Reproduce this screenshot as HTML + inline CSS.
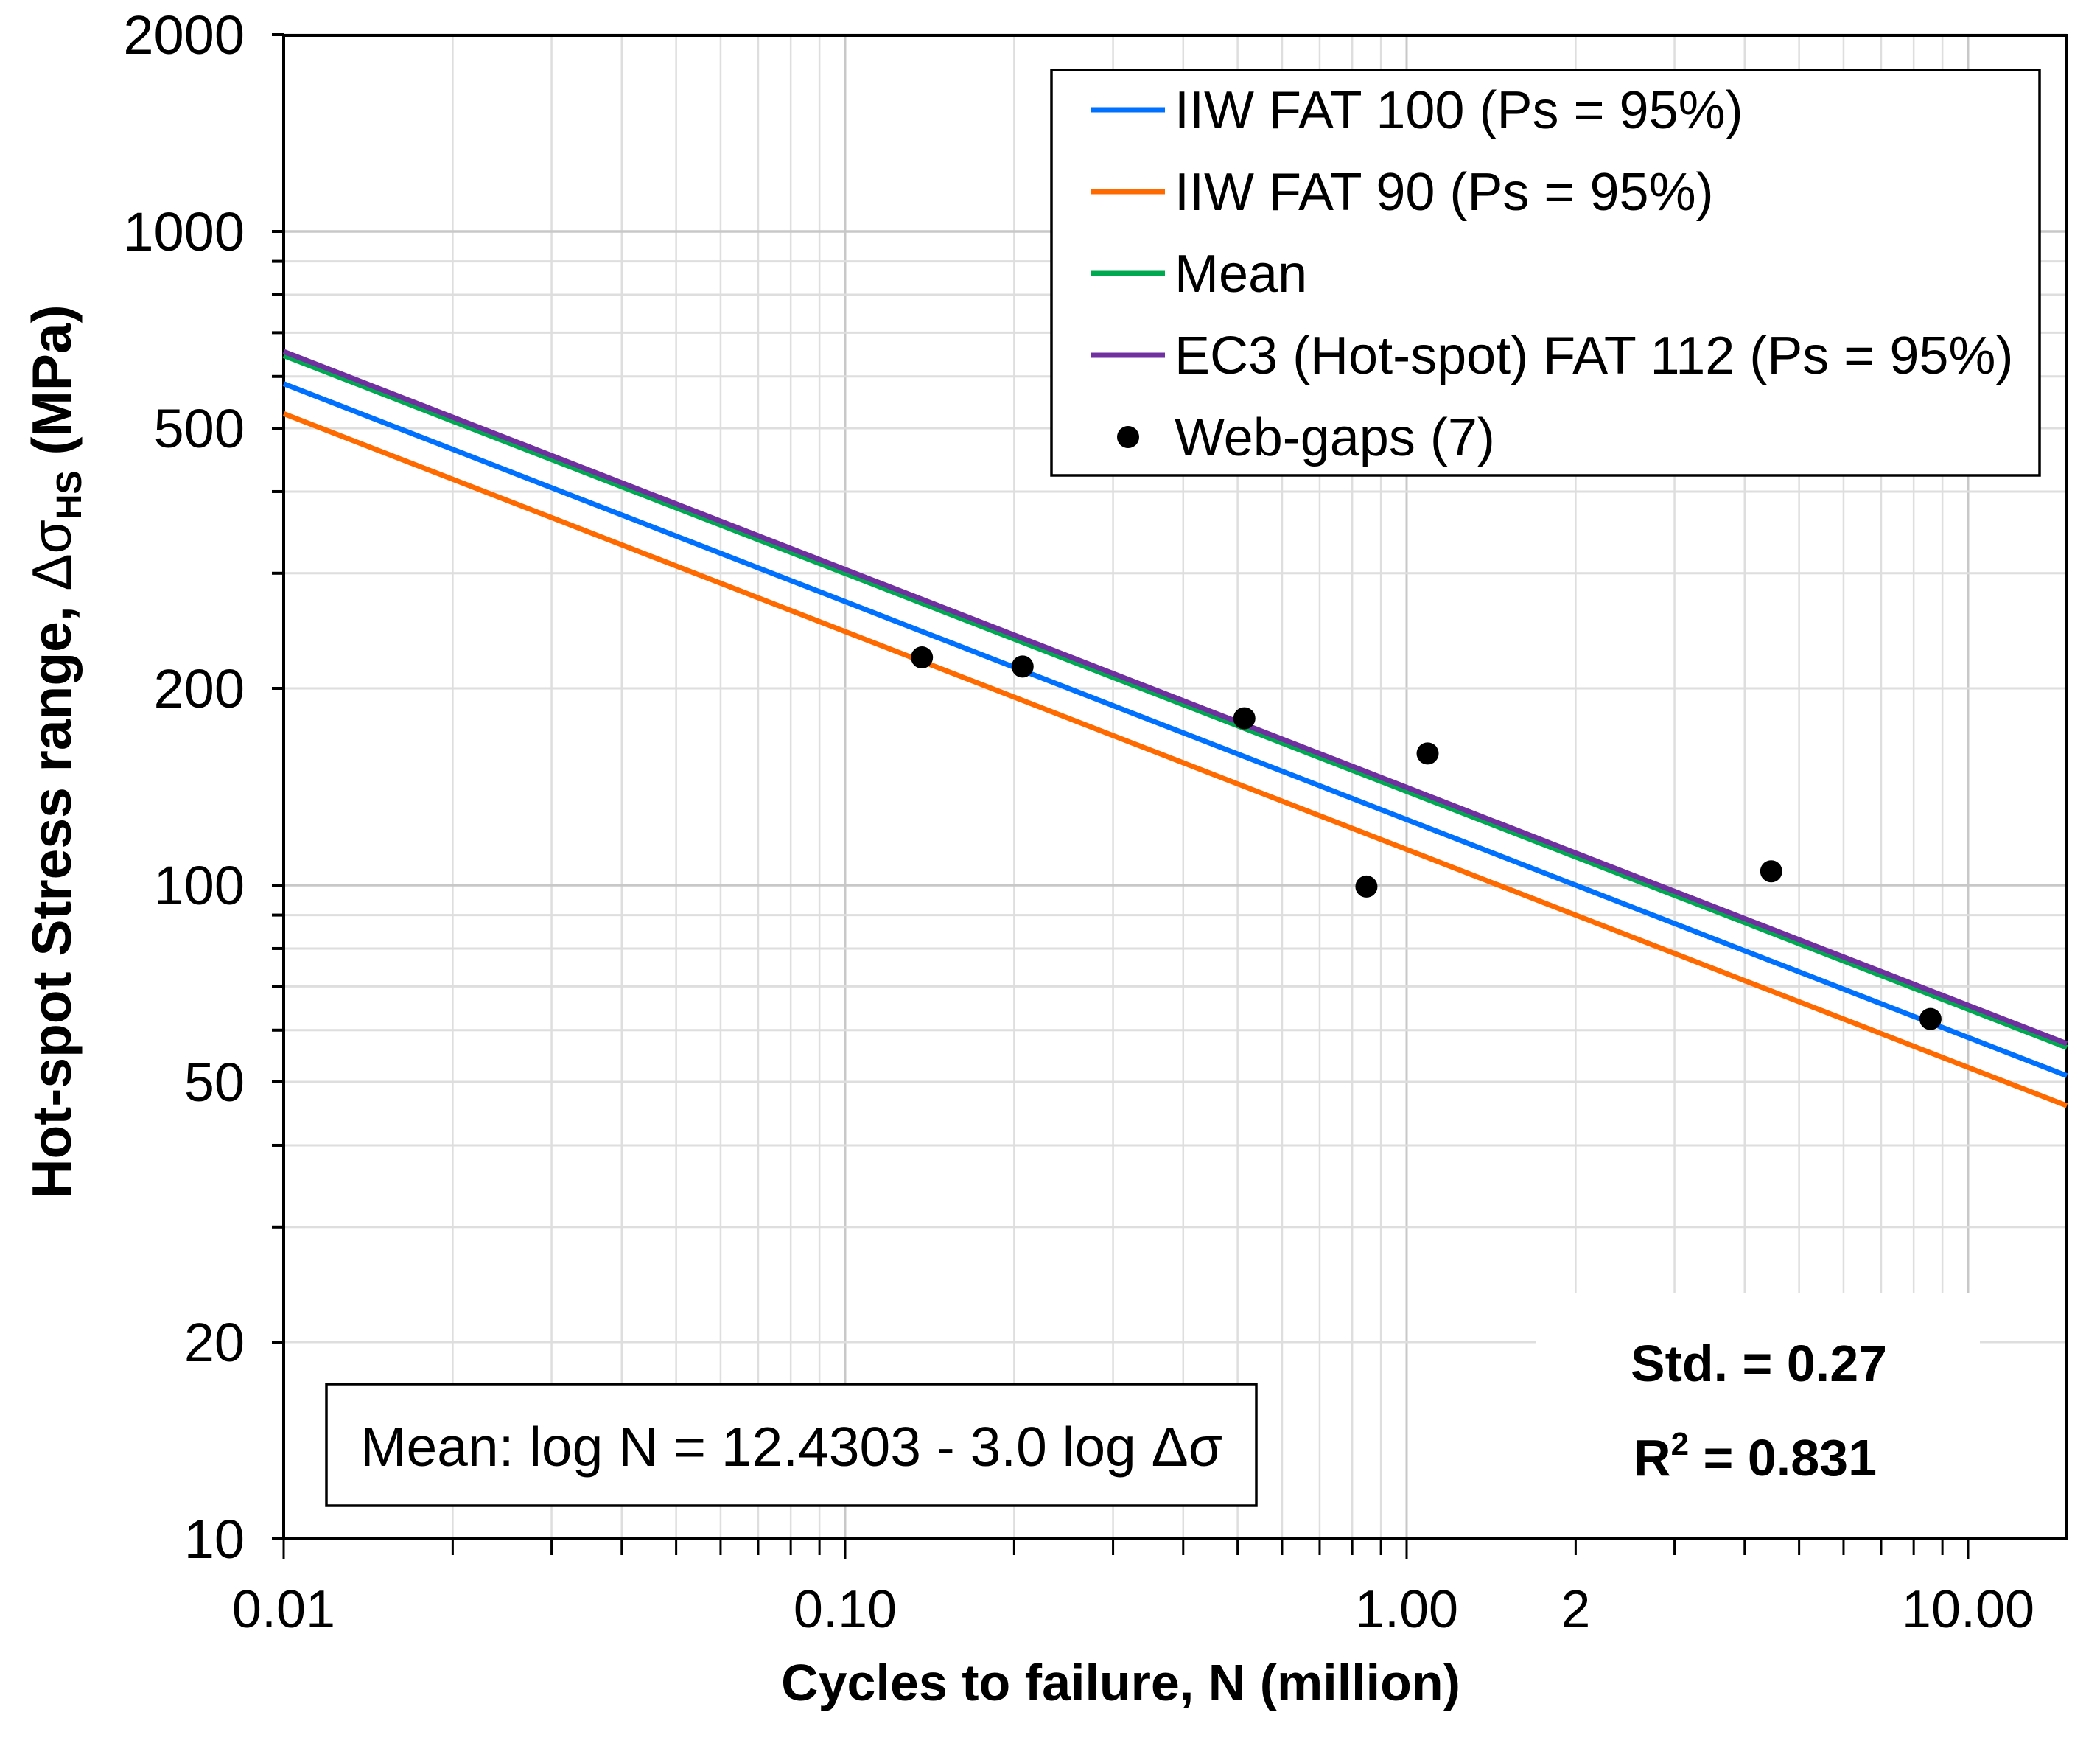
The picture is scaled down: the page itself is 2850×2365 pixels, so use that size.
<!DOCTYPE html>
<html><head><meta charset="utf-8"><style>
html,body{margin:0;padding:0;background:#fff}
svg{display:block}
text{font-family:"Liberation Sans",sans-serif;fill:#000}
</style></head><body>
<svg id="chart" width="2850" height="2365" viewBox="0 0 2850 2365" xmlns="http://www.w3.org/2000/svg">
<rect x="0" y="0" width="2850" height="2365" fill="#fff"/>
<g id="grid"></g>
<rect x="2085" y="1755" width="602" height="330" fill="#fff"/>
<g id="axes"></g>
<g id="series"></g>
<g id="points"></g>
<g>
<rect x="1427" y="95" width="1341" height="550" fill="#fff" stroke="#000" stroke-width="3.5"/>
<g><line x1="1481" y1="149" x2="1581" y2="149" stroke="#0070FF" stroke-width="7"/><text x="1594" y="174" font-size="72">IIW FAT 100 (Ps = 95%)</text></g>
<g><line x1="1481" y1="260" x2="1581" y2="260" stroke="#FF6A00" stroke-width="7"/><text x="1594" y="285" font-size="72">IIW FAT 90 (Ps = 95%)</text></g>
<g><line x1="1481" y1="371" x2="1581" y2="371" stroke="#00A850" stroke-width="7"/><text x="1594" y="396" font-size="72">Mean</text></g>
<g><line x1="1481" y1="482" x2="1581" y2="482" stroke="#7030A0" stroke-width="7"/><text x="1594" y="507" font-size="72">EC3 (Hot-spot) FAT 112 (Ps = 95%)</text></g>
<g><circle cx="1531" cy="593" r="15" fill="#000"/><text x="1594" y="618" font-size="72">Web-gaps (7)</text></g>
</g>
<g>
<rect x="443" y="1878" width="1262" height="165" fill="#fff" stroke="#000" stroke-width="3.5"/>
<text x="1074" y="1989" font-size="75" text-anchor="middle">Mean: log N = 12.4303 - 3.0 log Δσ</text>
</g>
<text x="2387" y="1874" font-size="70" font-weight="bold" text-anchor="middle">Std. = 0.27</text>
<text x="2382" y="2002" font-size="70" font-weight="bold" text-anchor="middle">R<tspan font-size="44" dy="-28">2</tspan><tspan dy="28"> = 0.831</tspan></text>
<text x="1521" y="2307" font-size="70" font-weight="bold" text-anchor="middle">Cycles to failure, N (million)</text>
<text transform="translate(96,1020) rotate(-90)" font-size="75" font-weight="bold" text-anchor="middle">Hot-spot Stress range, <tspan font-weight="normal">Δσ</tspan><tspan font-size="48" dy="14">HS</tspan><tspan dy="-14"> (MPa)</tspan></text>
</svg>
<script>
const fatValues = [100, 90, 112];
const meanIntercept = 12.4303;
const meanSlope = 3.0;
const pointN = [0.137, 0.207, 0.514, 0.848, 1.09, 4.46, 8.57];
const pointS = [223, 216, 180, 99.5, 159, 105, 62.4];
const yTicks = [2000, 1000, 500, 200, 100, 50, 20, 10];
const xTicks = [0.01, 0.1, 1, 10, 2];
const xTickLabels = ["0.01", "0.10", "1.00", "10.00", "2"];

const NS = "http://www.w3.org/2000/svg";
const L = 385, R = 2805, T = 48, B = 2088;
const xDec = 762, yDec = 887;
const xMin = 0.01, xMax = Math.pow(10, Math.log10(0.01) + (R - L) / xDec);
function xs(n){ return L + (Math.log10(n) - Math.log10(xMin)) * xDec; }
function ys(s){ return B - (Math.log10(s) - 1) * yDec; }
function mk(tag, attrs, parent){ const e = document.createElementNS(NS, tag); for (const k in attrs) e.setAttribute(k, attrs[k]); parent.appendChild(e); return e; }

const grid = document.getElementById('grid');
const axes = document.getElementById('axes');
for (let d = -2; d <= 1; d++) {
  for (let m = 1; m <= 9; m++) {
    const v = m * Math.pow(10, d);
    if (v < xMin || v > xMax) continue;
    const x = xs(v);
    const gl = mk('line', {x1:x, y1:T, x2:x, y2:B, stroke: m===1 ? '#c8c8c8' : '#dedede', 'stroke-width': m===1 ? 3 : 2.5}, grid);
    
    
    const tk = mk('line', {x1:x, y1:B, x2:x, y2:B + (m===1 ? 28 : 22), stroke:'#000', 'stroke-width':3}, axes);
    
    
  }
}
for (let d = 1; d <= 3; d++) {
  for (let m = 1; m <= 9; m++) {
    const v = m * Math.pow(10, d);
    if (v > 2000) continue;
    const y = ys(v);
    const gl = mk('line', {x1:L, y1:y, x2:R, y2:y, stroke: m===1 ? '#c8c8c8' : '#dedede', 'stroke-width': m===1 ? 3.5 : 3}, grid);
    
    
    const tk = mk('line', {x1:L - 16, y1:y, x2:L, y2:y, stroke:'#000', 'stroke-width':4}, axes);
    
    
  }
}
const fr = mk('rect', {x:L, y:T, width:R-L, height:B-T, fill:'none', stroke:'#000', 'stroke-width':4}, axes);


yTicks.forEach(v => {
  const t = mk('text', {x:332, y:ys(v) + 26, 'font-size':74, 'text-anchor':'end'}, axes);
  
  
  t.textContent = String(v);
});
xTicks.forEach((v, i) => {
  const t = mk('text', {x:xs(v), y:2208, 'font-size':72, 'text-anchor':'middle'}, axes);
  
  
  t.textContent = xTickLabels[i];
});
const series = document.getElementById('series');
function curve(fn, color, name){
  const n0 = xMin, n1 = xMax;
  const p = 'M' + xs(n0) + ',' + ys(fn(n0)) + ' L' + xs(n1) + ',' + ys(fn(n1));
  const e = mk('path', {d:p, stroke:color, 'stroke-width':7, fill:'none'}, series);
  
  
}
function fatCurve(fat){ return n => fat * Math.pow(2 / n, 1/3); }
curve(fatCurve(fatValues[1]), '#FF6A00', 'iiw-fat90-line');
curve(fatCurve(fatValues[0]), '#0070FF', 'iiw-fat100-line');
curve(n => Math.pow(10, (meanIntercept - Math.log10(n * 1e6)) / meanSlope), '#00A850', 'mean-line');
curve(fatCurve(fatValues[2]), '#7030A0', 'ec3-fat112-line');
const pts = document.getElementById('points');
pointN.forEach((n, i) => {
  const c = mk('circle', {cx:xs(n), cy:ys(pointS[i]), r:15, fill:'#000'}, pts);
  
  
});
</script>
</body></html>
